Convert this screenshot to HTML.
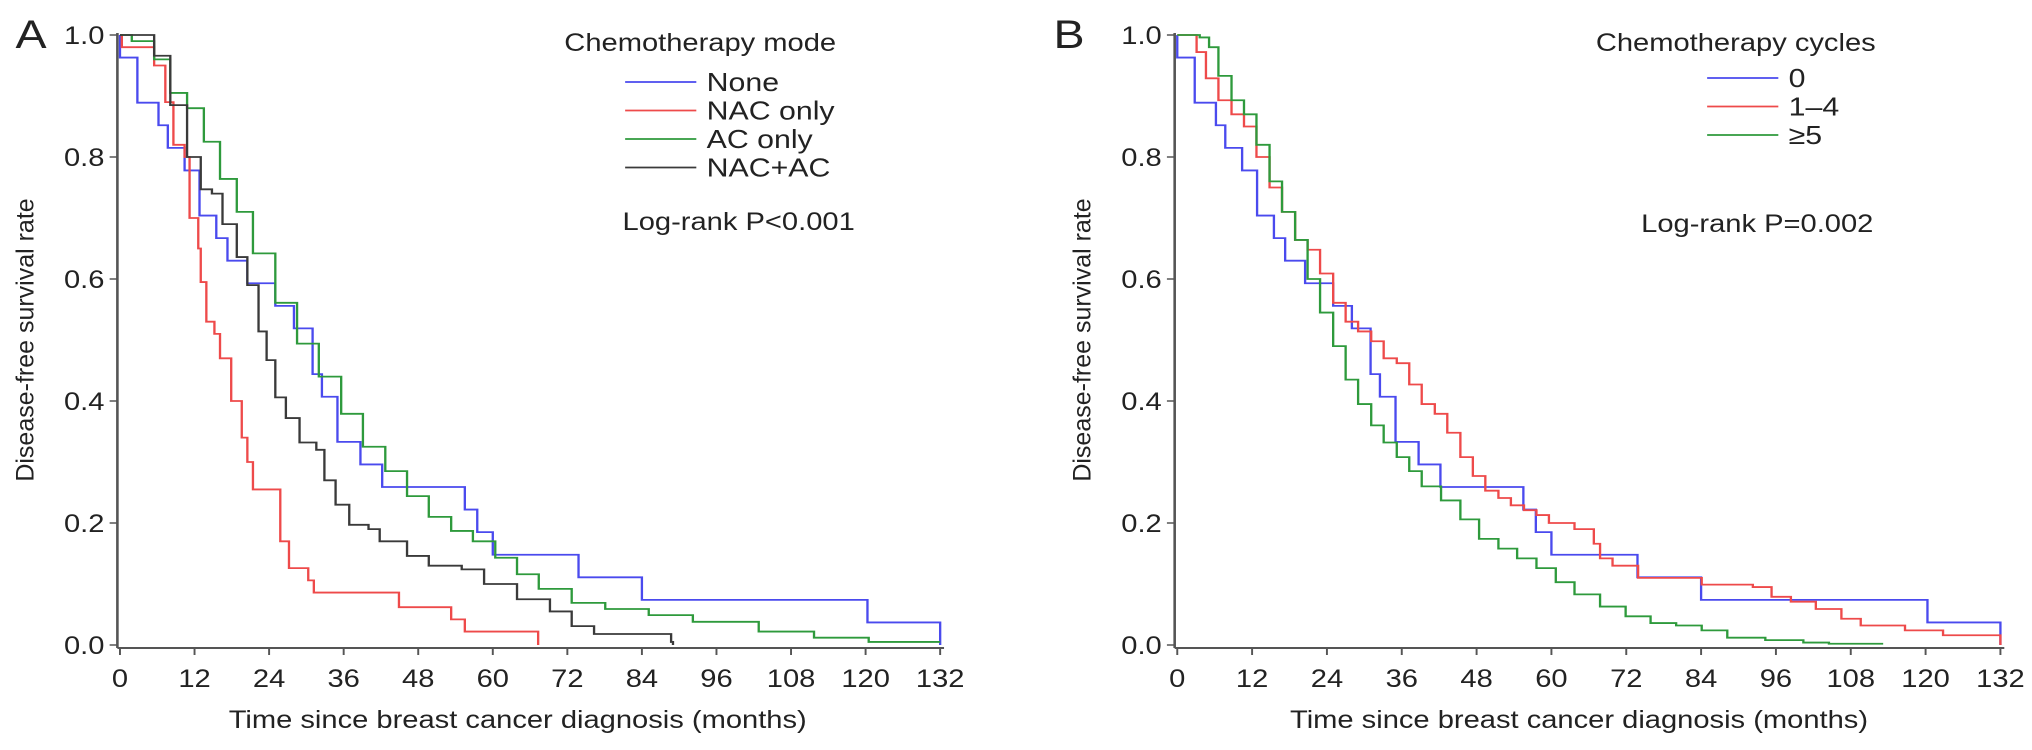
<!DOCTYPE html>
<html><head><meta charset="utf-8"><style>
html,body{margin:0;padding:0;background:#fff;}
svg{display:block;}
text{font-family:"Liberation Sans",Arial,sans-serif;fill:#222;}
</style></head><body>
<svg id="chart" width="2032" height="750" viewBox="0 0 1570 750" preserveAspectRatio="none" xmlns="http://www.w3.org/2000/svg"></svg>
<script>
// ---------- Data ----------
const xTicks = [0,12,24,36,48,60,72,84,96,108,120,132];
const yTicks = [0,0.2,0.4,0.6,0.8,1.0];
const yTickLabels = ["0.0","0.2","0.4","0.6","0.8","1.0"];

const noneT = [0,0,2.8,6.2,7.7,10.4,12.8,15.5,17.3,20.5,25,28,31,32.5,35,38.7,42.2,55.5,57.5,60,73.8,84,120.3,132];
const noneV = [1,0.963,0.889,0.852,0.815,0.778,0.704,0.667,0.63,0.593,0.556,0.519,0.444,0.407,0.333,0.296,0.259,0.222,0.185,0.148,0.111,0.074,0.037,0];
const nacT = [0,0.3,5.5,7.3,8.6,10.4,11.2,12.6,13,13.9,15.2,16.1,17.9,19.6,20.5,21.4,25.8,27.2,30.3,31.2,44.9,53.3,55.5,67.3];
const nacV = [1,0.98,0.95,0.89,0.82,0.8,0.7,0.65,0.595,0.53,0.51,0.47,0.4,0.34,0.3,0.255,0.17,0.126,0.106,0.086,0.062,0.042,0.022,0];
const acT = [0,1.9,5.5,8.1,10.8,13.5,16.1,18.8,21.4,25,28.5,32,35.6,39.1,42.7,46.2,49.7,53.3,56.8,60.4,63.9,67.4,72.7,78.1,85.1,92.2,102.8,111.7,120.5,132];
const acV = [1,0.99,0.96,0.905,0.88,0.825,0.764,0.71,0.642,0.561,0.494,0.44,0.379,0.325,0.285,0.244,0.21,0.187,0.17,0.143,0.116,0.092,0.069,0.059,0.049,0.038,0.022,0.012,0.005,0.005];
const bothT = [0,3.3,5.5,8.1,10.8,13,14.8,16.5,18.8,20.5,22.3,23.6,25,26.7,28.9,31.6,32.9,34.7,36.9,40,41.8,46.2,49.7,55,58.6,63.9,69.2,72.7,76.3,88.7,89];
const bothV = [1,1,0.966,0.885,0.8,0.747,0.74,0.69,0.636,0.59,0.514,0.467,0.406,0.372,0.332,0.32,0.27,0.23,0.197,0.19,0.17,0.146,0.13,0.124,0.1,0.075,0.055,0.031,0.018,0.005,0];

const c0T = [0,0,2.8,6.2,7.7,10.4,12.8,15.5,17.3,20.5,25,28,31,32.5,35,38.7,42.2,55.5,57.5,60,73.8,84,120.3,132];
const c0V = [1,0.963,0.889,0.852,0.815,0.778,0.704,0.667,0.63,0.593,0.556,0.519,0.444,0.407,0.333,0.296,0.259,0.222,0.185,0.148,0.111,0.074,0.037,0];
const c14T = [0,3.1,4.6,6.6,8.7,10.7,12.7,14.8,16.8,18.9,20.9,22.9,25,27,29,31.1,33.1,35.2,37.2,39.2,41.3,43.3,45.4,47.4,49.4,51.5,53.5,55.6,57.6,59.6,63.7,66.8,67.8,69.8,73.9,84.1,92.3,95.3,98.4,102.4,106.5,109.6,116.7,122.8,132];
const c14V = [1,0.972,0.929,0.893,0.87,0.85,0.8,0.75,0.71,0.664,0.648,0.609,0.561,0.53,0.514,0.498,0.47,0.462,0.427,0.395,0.379,0.348,0.308,0.277,0.253,0.241,0.229,0.221,0.213,0.2,0.19,0.166,0.142,0.13,0.11,0.099,0.095,0.079,0.071,0.059,0.043,0.032,0.024,0.016,0];
const c5T = [0,3.6,5.1,6.6,8.7,10.7,12.7,14.8,16.8,18.9,20.9,22.9,25,27,29,31.1,33.1,35.2,37.2,39.2,42.3,45.4,48.4,51.5,54.5,57.6,60.7,63.7,67.8,71.9,75.9,80,84.1,88.2,94.3,100.4,104.5,113.2];
const c5V = [1,0.996,0.98,0.933,0.893,0.87,0.82,0.76,0.71,0.664,0.6,0.545,0.49,0.435,0.395,0.36,0.332,0.308,0.285,0.26,0.237,0.206,0.174,0.158,0.142,0.126,0.103,0.083,0.063,0.047,0.036,0.032,0.024,0.012,0.008,0.004,0.002,0.002];

const svg = document.getElementById('chart');
const NS = 'http://www.w3.org/2000/svg';
const SX = 0.9;
function mk(tag, attrs, parent){const e=document.createElementNS(NS,tag);for(const k in attrs)e.setAttribute(k,attrs[k]);(parent||svg).appendChild(e);return e;}
function txt(parent,x,y,size,anchor,content,extra){
  const t = mk('text',{x:0,y:0,'font-size':size,'text-anchor':anchor,transform:`translate(${x},${y}) scale(${SX},1)`+(extra||'')},parent);
  t.textContent = content;
  return t;
}

function panel(cfg){
  const g = mk('g',{});
  
  
  const xS = t => cfg.xL + (cfg.xR - cfg.xL) * t / 132;
  const yS = v => 645 - 610 * v;
  const ya = mk('line',{x1:cfg.xL-2,y1:33,x2:cfg.xL-2,y2:648,stroke:'#555','stroke-width':2},g);
  
  
  const xa = mk('line',{x1:cfg.xL-2,y1:648,x2:cfg.xR+3,y2:648,stroke:'#555','stroke-width':2},g);
  
  
  yTicks.forEach((v,i)=>{
    mk('line',{x1:cfg.xL-8,y1:yS(v),x2:cfg.xL-2,y2:yS(v),stroke:'#555','stroke-width':1.5},g);
    const t = txt(g,cfg.xL-12,yS(v)+9,25,'end',yTickLabels[i]);
    
    
  });
  xTicks.forEach(m=>{
    mk('line',{x1:xS(m),y1:648,x2:xS(m),y2:655,stroke:'#555','stroke-width':1.5},g);
    const t = txt(g,xS(m),687,25,'middle',String(m));
    
    
  });
  const xt = txt(g,cfg.titleX,728,25,'middle','Time since breast cancer diagnosis (months)');
  
  
  const ytl = mk('text',{x:0,y:0,'text-anchor':'middle','font-size':25,transform:`translate(${cfg.xL-67},340) scale(0.78,1) rotate(-90)`},g);
  
  
  ytl.textContent = 'Disease-free survival rate';
  const pl = txt(g,cfg.labelX,48,40,'start',cfg.label);
  
  
  cfg.series.forEach(s=>{
    let d = '';
    for(let i=0;i<s.t.length;i++){
      const x = xS(s.t[i]), y = yS(s.v[i]);
      if(i===0) d += `M${x},${y}`;
      else d += `H${x}V${y}`;
    }
    const p = mk('path',{d:d,fill:'none',stroke:s.color,'stroke-width':1.8},g);
    
    
  });
  const lt = txt(g,cfg.legX,51,25,'start',cfg.legTitle);
  
  
  cfg.series.forEach((s,i)=>{
    const y = cfg.legY0 + i*28.5;
    const ln = mk('line',{x1:cfg.legLineX,y1:y,x2:cfg.legLineX+55,y2:y,stroke:s.color,'stroke-width':1.8},g);
    
    
    const tx = txt(g,cfg.legLineX+63,y+9,26,'start',s.name);
    
    
  });
  const pv = txt(g,cfg.pX,cfg.pY,25,'start',cfg.pText);
  
  
}

panel({name:'panel-a',label:'A',labelX:12,xL:92.7,xR:726.4,titleX:400,legX:436,legLineX:483,legY0:82,legTitle:'Chemotherapy mode',
  pX:481,pY:230,pText:'Log-rank P<0.001',
  series:[
    {key:'none',name:'None',color:'#4a4aee',t:noneT,v:noneV},
    {key:'nac-only',name:'NAC only',color:'#ee4a4a',t:nacT,v:nacV},
    {key:'ac-only',name:'AC only',color:'#2e9a3c',t:acT,v:acV},
    {key:'nac-ac',name:'NAC+AC',color:'#3a3a3a',t:bothT,v:bothV}
  ]});
panel({name:'panel-b',label:'B',labelX:814,xL:909.6,xR:1545.6,titleX:1220,legX:1233,legLineX:1319,legY0:78,legTitle:'Chemotherapy cycles',
  pX:1268,pY:232,pText:'Log-rank P=0.002',
  series:[
    {key:'cycles-0',name:'0',color:'#4a4aee',t:c0T,v:c0V},
    {key:'cycles-1-4',name:'1–4',color:'#ee4a4a',t:c14T,v:c14V},
    {key:'cycles-5plus',name:'≥5',color:'#2e9a3c',t:c5T,v:c5V}
  ]});
</script>
</body></html>
